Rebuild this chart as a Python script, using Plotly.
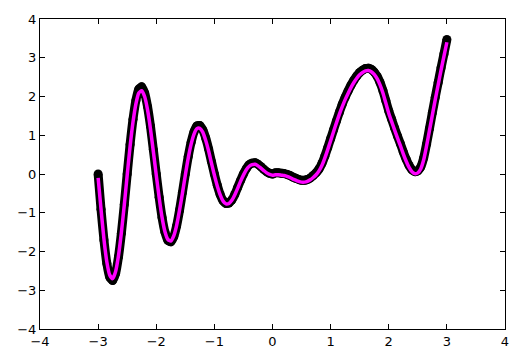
import plotly.graph_objects as go

x_pts = [-3.00, -2.95, -2.90, -2.85, -2.80, -2.75, -2.70, -2.65, -2.60, -2.55,
         -2.50, -2.45, -2.40, -2.35, -2.30, -2.25, -2.20, -2.15, -2.10, -2.05,
         -2.00, -1.95, -1.90, -1.85, -1.80, -1.75, -1.70, -1.65, -1.60, -1.55,
         -1.50, -1.45, -1.40, -1.35, -1.30, -1.25, -1.20, -1.15, -1.10, -1.05,
         -1.00, -0.95, -0.90, -0.85, -0.80, -0.75, -0.70, -0.65, -0.60, -0.55,
         -0.50, -0.45, -0.40, -0.35, -0.30, -0.25, -0.20, -0.15, -0.10, -0.05,
         0.00,
         0.05, 0.10, 0.15, 0.20, 0.25, 0.30, 0.35, 0.40, 0.45, 0.50,
         0.55, 0.60, 0.65, 0.70, 0.75, 0.80, 0.85, 0.90, 0.95, 1.00,
         1.05, 1.10, 1.15, 1.20, 1.25, 1.30, 1.35, 1.40, 1.45, 1.50,
         1.55, 1.60, 1.65, 1.70, 1.75, 1.80, 1.85, 1.90, 1.95, 2.00,
         2.05, 2.10, 2.15, 2.20, 2.25, 2.30, 2.35, 2.40, 2.45, 2.50,
         2.55, 2.60, 2.65, 2.70, 2.75, 2.80, 2.85, 2.90, 2.95, 3.00]

# black sampled points
y_obs = [0.00, -0.91, -1.70, -2.31, -2.66, -2.75, -2.57, -2.14, -1.53, -0.79,
         0.00, 0.76, 1.41, 1.90, 2.19, 2.25, 2.09, 1.74, 1.24, 0.63,
         0.00, -0.60, -1.12, -1.50, -1.71, -1.75, -1.62, -1.34, -0.94, -0.48,
         0.00, 0.45, 0.82, 1.09, 1.24, 1.25, 1.14, 0.93, 0.65, 0.32,
         0.00, -0.29, -0.53, -0.69, -0.76, -0.75, -0.67, -0.53, -0.35, -0.17,
         0.00, 0.14, 0.24, 0.28, 0.29, 0.25, 0.19, 0.12, 0.06, 0.02,
         0.00,
         0.03, 0.03, 0.02, 0.01, -0.01, -0.04, -0.08, -0.11, -0.14, -0.16,
         -0.16, -0.14, -0.10, -0.04, 0.03, 0.13, 0.27, 0.46, 0.68, 0.91,
         1.14, 1.37, 1.59, 1.80, 1.98, 2.14, 2.29, 2.42, 2.53, 2.62,
         2.68, 2.72, 2.73, 2.70, 2.63, 2.52, 2.36, 2.15, 1.89, 1.63,
         1.41, 1.19, 0.98, 0.78, 0.57, 0.38, 0.22, 0.11, 0.06, 0.08,
         0.18, 0.41, 0.77, 1.17, 1.58, 1.98, 2.36, 2.74, 3.10, 3.47]

# magenta fitted curve
y_fit = [-0.10, -0.91, -1.68, -2.27, -2.61, -2.70, -2.52, -2.11, -1.51, -0.80,
         -0.03, 0.71, 1.34, 1.81, 2.09, 2.15, 2.00, 1.66, 1.17, 0.58,
         -0.03, -0.61, -1.12, -1.49, -1.69, -1.73, -1.60, -1.33, -0.94, -0.50,
         -0.03, 0.41, 0.77, 1.03, 1.17, 1.18, 1.08, 0.87, 0.60, 0.28,
         -0.03, -0.31, -0.54, -0.70, -0.77, -0.76, -0.68, -0.54, -0.37, -0.19,
         -0.03, 0.11, 0.20, 0.24, 0.25, 0.21, 0.15, 0.09, 0.03, -0.01,
         -0.03,
         -0.02, -0.02, -0.03, -0.04, -0.06, -0.09, -0.13, -0.16, -0.19, -0.21,
         -0.21, -0.19, -0.15, -0.09, -0.02, 0.08, 0.22, 0.41, 0.63, 0.86,
         1.09, 1.32, 1.54, 1.74, 1.92, 2.08, 2.23, 2.36, 2.47, 2.56,
         2.62, 2.66, 2.67, 2.64, 2.57, 2.46, 2.30, 2.09, 1.83, 1.57,
         1.35, 1.14, 0.93, 0.73, 0.52, 0.33, 0.17, 0.06, 0.01, 0.03,
         0.13, 0.36, 0.72, 1.12, 1.52, 1.92, 2.30, 2.68, 3.04, 3.40]

tick_vals = [-4, -3, -2, -1, 0, 1, 2, 3, 4]

fig = go.Figure()
fig.add_trace(go.Scatter(
    x=x_pts, y=y_obs, mode="lines+markers",
    line=dict(color="black", width=9, shape="spline", smoothing=0.6),
    marker=dict(color="black", size=9),
    hoverinfo="skip", showlegend=False))
fig.add_trace(go.Scatter(
    x=x_pts, y=y_fit, mode="lines",
    line=dict(color="#ff00ff", width=3.5, shape="spline", smoothing=0.6),
    showlegend=False))

axis_common = dict(
    showgrid=False, zeroline=False, showline=True, linecolor="black",
    linewidth=1, mirror="ticks", ticks="inside", ticklen=5, tickwidth=1,
    tickcolor="black", tickvals=tick_vals,
    tickfont=dict(family="DejaVu Sans", size=13, color="black"))

fig.update_xaxes(range=[-4, 4], **axis_common)
fig.update_yaxes(range=[-4, 4], **axis_common)

fig.update_layout(
    width=523, height=361,
    margin=dict(l=40, r=18, t=19, b=32),
    paper_bgcolor="white", plot_bgcolor="white",
)

fig.write_html("out.html")
